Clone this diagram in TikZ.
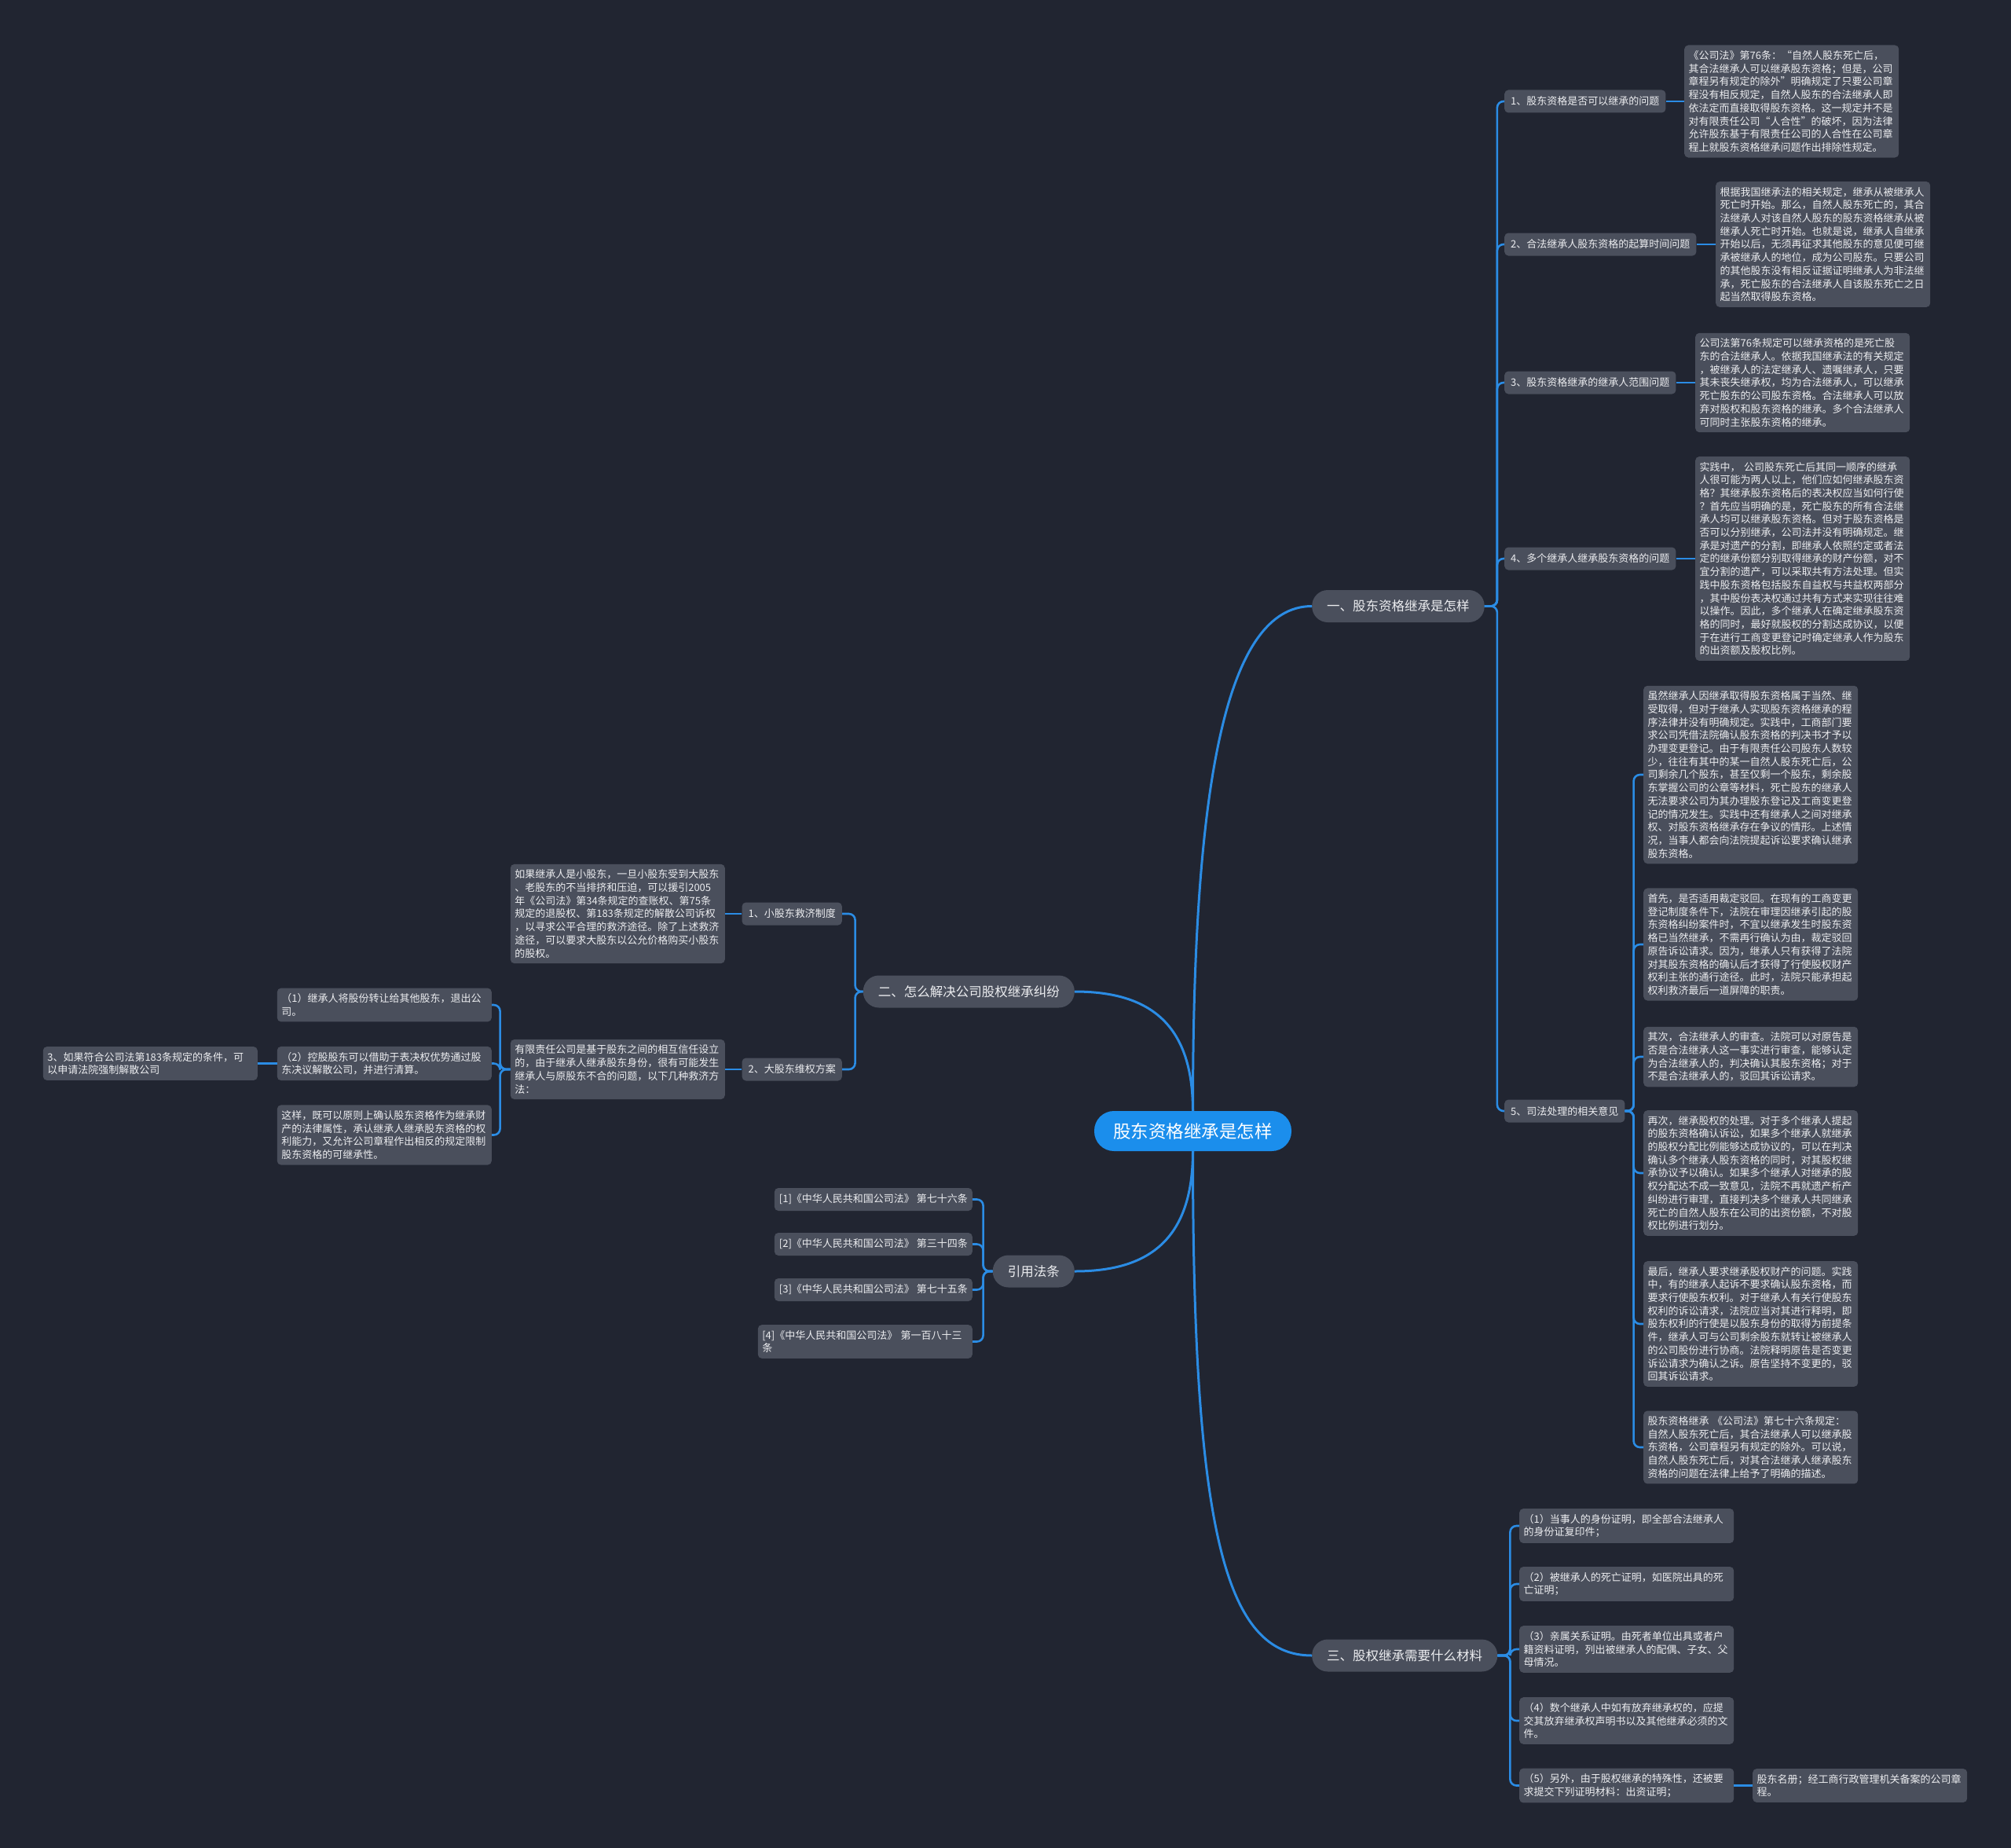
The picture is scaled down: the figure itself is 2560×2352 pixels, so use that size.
\documentclass[tikz,border=0pt]{standalone}
\usepackage{fontspec}
\setmainfont{Noto Sans CJK SC}
\definecolor{bgc}{RGB}{33,37,49}
\definecolor{boxc}{RGB}{74,79,92}
\definecolor{linec}{RGB}{43,140,228}
\definecolor{rootc}{RGB}{27,142,236}
\definecolor{textc}{RGB}{236,237,240}
\begin{document}
\begin{tikzpicture}[x=1pt,y=-1pt,
  conn/.style={draw=linec, line width=2.6pt, rounded corners=8pt},
  mainconn/.style={draw=linec, line width=3pt},
  box/.style={fill=boxc, rounded corners=5pt, text=textc, font=\fontsize{13}{16.7}\selectfont, align=left, text width=262pt, inner xsep=5.5pt, inner ysep=7pt},
  lbl/.style={fill=boxc, rounded corners=5pt, text=textc, font=\fontsize{13}{16.7}\selectfont, inner xsep=8pt, inner ysep=0pt, minimum height=29pt},
  reflbl/.style={lbl, inner xsep=6pt},
  lone/.style={fill=boxc, rounded corners=20pt, text=textc, font=\fontsize{16.5}{20}\selectfont, inner xsep=19pt, inner ysep=0pt, minimum height=41pt},
  rootn/.style={fill=rootc, rounded corners=25pt, text=white, font=\fontsize{22.5}{26}\selectfont, minimum width=251pt, minimum height=51pt, inner ysep=0pt}
]
\fill[bgc] (0,0) rectangle (2560,2352);
\useasboundingbox (0,0) rectangle (2560,2352);

% root and level 1
\node[rootn] (root) at (1518.5,1439.5) {股东资格继承是怎样};
\node[lone, anchor=west] (l1a) at (1670,771.5) {一、股东资格继承是怎样};
\node[lone, anchor=east] (l1b) at (1368,1262) {二、怎么解决公司股权继承纠纷};
\node[lone, anchor=east] (l1c) at (1368,1618) {引用法条};
\node[lone, anchor=west] (l1d) at (1670,2107) {三、股权继承需要什么材料};

% branch one
\node[lbl, anchor=west] (l21) at (1915,129) {1、股东资格是否可以继承的问题};
\node[lbl, anchor=west] (l22) at (1915,311) {2、合法继承人股东资格的起算时间问题};
\node[lbl, anchor=west] (l23) at (1915,487) {3、股东资格继承的继承人范围问题};
\node[lbl, anchor=west] (l24) at (1915,711) {4、多个继承人继承股东资格的问题};
\node[lbl, anchor=west] (l25) at (1915,1414) {5、司法处理的相关意见};

\node[box, anchor=west] (b1) at (2144,129) {《公司法》第76条：“自然人股东死亡后，\\
其合法继承人可以继承股东资格；但是，公司\\
章程另有规定的除外”明确规定了只要公司章\\
程没有相反规定，自然人股东的合法继承人即\\
依法定而直接取得股东资格。这一规定并不是\\
对有限责任公司“人合性”的破坏，因为法律\\
允许股东基于有限责任公司的人合性在公司章\\
程上就股东资格继承问题作出排除性规定。};

\node[box, anchor=west] (b2) at (2184,311) {根据我国继承法的相关规定，继承从被继承人\\
死亡时开始。那么，自然人股东死亡的，其合\\
法继承人对该自然人股东的股东资格继承从被\\
继承人死亡时开始。也就是说，继承人自继承\\
开始以后，无须再征求其他股东的意见便可继\\
承被继承人的地位，成为公司股东。只要公司\\
的其他股东没有相反证据证明继承人为非法继\\
承，死亡股东的合法继承人自该股东死亡之日\\
起当然取得股东资格。};

\node[box, anchor=west] (b3) at (2158,487) {公司法第76条规定可以继承资格的是死亡股\\
东的合法继承人。依据我国继承法的有关规定\\
，被继承人的法定继承人、遗嘱继承人，只要\\
其未丧失继承权，均为合法继承人，可以继承\\
死亡股东的公司股东资格。合法继承人可以放\\
弃对股权和股东资格的继承。多个合法继承人\\
可同时主张股东资格的继承。};

\node[box, anchor=west] (b4) at (2158,711) {实践中， 公司股东死亡后其同一顺序的继承\\
人很可能为两人以上，他们应如何继承股东资\\
格？其继承股东资格后的表决权应当如何行使\\
？首先应当明确的是，死亡股东的所有合法继\\
承人均可以继承股东资格。但对于股东资格是\\
否可以分别继承，公司法并没有明确规定。继\\
承是对遗产的分割，即继承人依照约定或者法\\
定的继承份额分别取得继承的财产份额，对不\\
宜分割的遗产，可以采取共有方法处理。但实\\
践中股东资格包括股东自益权与共益权两部分\\
，其中股份表决权通过共有方式来实现往往难\\
以操作。因此，多个继承人在确定继承股东资\\
格的同时，最好就股权的分割达成协议，以便\\
于在进行工商变更登记时确定继承人作为股东\\
的出资额及股权比例。};

\node[box, anchor=west] (b5a) at (2092,986) {虽然继承人因继承取得股东资格属于当然、继\\
受取得，但对于继承人实现股东资格继承的程\\
序法律并没有明确规定。实践中，工商部门要\\
求公司凭借法院确认股东资格的判决书才予以\\
办理变更登记。由于有限责任公司股东人数较\\
少，往往有其中的某一自然人股东死亡后，公\\
司剩余几个股东，甚至仅剩一个股东，剩余股\\
东掌握公司的公章等材料，死亡股东的继承人\\
无法要求公司为其办理股东登记及工商变更登\\
记的情况发生。实践中还有继承人之间对继承\\
权、对股东资格继承存在争议的情形。上述情\\
况，当事人都会向法院提起诉讼要求确认继承\\
股东资格。};

\node[box, anchor=west] (b5b) at (2092,1202) {首先，是否适用裁定驳回。在现有的工商变更\\
登记制度条件下，法院在审理因继承引起的股\\
东资格纠纷案件时，不宜以继承发生时股东资\\
格已当然继承，不需再行确认为由，裁定驳回\\
原告诉讼请求。因为，继承人只有获得了法院\\
对其股东资格的确认后才获得了行使股权财产\\
权利主张的通行途径。此时，法院只能承担起\\
权利救济最后一道屏障的职责。};

\node[box, anchor=west] (b5c) at (2092,1345) {其次，合法继承人的审查。法院可以对原告是\\
否是合法继承人这一事实进行审查，能够认定\\
为合法继承人的，判决确认其股东资格；对于\\
不是合法继承人的，驳回其诉讼请求。};

\node[box, anchor=west] (b5d) at (2092,1493) {再次，继承股权的处理。对于多个继承人提起\\
的股东资格确认诉讼，如果多个继承人就继承\\
的股权分配比例能够达成协议的，可以在判决\\
确认多个继承人股东资格的同时，对其股权继\\
承协议予以确认。如果多个继承人对继承的股\\
权分配达不成一致意见，法院不再就遗产析产\\
纠纷进行审理，直接判决多个继承人共同继承\\
死亡的自然人股东在公司的出资份额，不对股\\
权比例进行划分。};

\node[box, anchor=west] (b5e) at (2092,1685) {最后，继承人要求继承股权财产的问题。实践\\
中，有的继承人起诉不要求确认股东资格，而\\
要求行使股东权利。对于继承人有关行使股东\\
权利的诉讼请求，法院应当对其进行释明，即\\
股东权利的行使是以股东身份的取得为前提条\\
件，继承人可与公司剩余股东就转让被继承人\\
的公司股份进行协商。法院释明原告是否变更\\
诉讼请求为确认之诉。原告坚持不变更的，驳\\
回其诉讼请求。};

\node[box, anchor=west] (b5f) at (2092,1842) {股东资格继承 《公司法》第七十六条规定：\\
自然人股东死亡后，其合法继承人可以继承股\\
东资格，公司章程另有规定的除外。可以说，\\
自然人股东死亡后，对其合法继承人继承股东\\
资格的问题在法律上给予了明确的描述。};

% branch two
\node[lbl, anchor=east] (la1) at (1072,1163) {1、小股东救济制度};
\node[lbl, anchor=east] (la2) at (1072,1361) {2、大股东维权方案};

\node[box, anchor=east] (a1) at (923,1163) {如果继承人是小股东，一旦小股东受到大股东\\
、老股东的不当排挤和压迫，可以援引2005\\
年《公司法》第34条规定的查账权、第75条\\
规定的退股权、第183条规定的解散公司诉权\\
，以寻求公平合理的救济途径。除了上述救济\\
途径，可以要求大股东以公允价格购买小股东\\
的股权。};

\node[box, anchor=east] (a2) at (923,1361) {有限责任公司是基于股东之间的相互信任设立\\
的，由于继承人继承股东身份，很有可能发生\\
继承人与原股东不合的问题，以下几种救济方\\
法：};

\node[box, anchor=east] (c1) at (626,1279) {（1）继承人将股份转让给其他股东，退出公\\
司。};
\node[box, anchor=east] (c2) at (626,1353.5) {（2）控股股东可以借助于表决权优势通过股\\
东决议解散公司，并进行清算。};
\node[box, anchor=east] (c3) at (626,1444.5) {这样，既可以原则上确认股东资格作为继承财\\
产的法律属性，承认继承人继承股东资格的权\\
利能力，又允许公司章程作出相反的规定限制\\
股东资格的可继承性。};
\node[box, anchor=east] (d1) at (328,1353.5) {3、如果符合公司法第183条规定的条件，可\\
以申请法院强制解散公司};

% references
\node[reflbl, anchor=east] (r1) at (1238,1526.5) {[1]《中华人民共和国公司法》 第七十六条};
\node[reflbl, anchor=east] (r2) at (1238,1583.5) {[2]《中华人民共和国公司法》 第三十四条};
\node[reflbl, anchor=east] (r3) at (1238,1641.5) {[3]《中华人民共和国公司法》 第七十五条};
\node[box, anchor=east] (r4) at (1238,1707.5) {[4]《中华人民共和国公司法》 第一百八十三\\
条};

% branch three
\node[box, anchor=west] (m1) at (1934,1942) {（1）当事人的身份证明，即全部合法继承人\\
的身份证复印件；};
\node[box, anchor=west] (m2) at (1934,2016) {（2）被继承人的死亡证明，如医院出具的死\\
亡证明；};
\node[box, anchor=west] (m3) at (1934,2099) {（3）亲属关系证明。由死者单位出具或者户\\
籍资料证明，列出被继承人的配偶、子女、父\\
母情况。};
\node[box, anchor=west] (m4) at (1934,2190) {（4）数个继承人中如有放弃继承权的，应提\\
交其放弃继承权声明书以及其他继承必须的文\\
件。};
\node[box, anchor=west] (m5) at (1934,2272.5) {（5）另外，由于股权继承的特殊性，还被要\\
求提交下列证明材料：出资证明；};
\node[box, anchor=west] (n1) at (2231,2272.5) {股东名册；经工商行政管理机关备案的公司章\\
程。};

% main connectors
\draw[mainconn] (root.north) .. controls (1518.5,1000) and (1560,771.5) .. (l1a.west);
\draw[mainconn] (root.north) .. controls (1518.5,1300) and (1460,1262) .. (l1b.east);
\draw[mainconn] (root.south) .. controls (1518.5,1580) and (1460,1618) .. (l1c.east);
\draw[mainconn] (root.south) .. controls (1518.5,1950) and (1560,2107) .. (l1d.west);

% branch one connectors
\foreach \c in {l21,l22,l23,l24,l25}
  \draw[conn] (l1a.east) -- ++(16,0) |- (\c.west);
\draw[conn] (l21.east) -- (b1.west);
\draw[conn] (l22.east) -- (b2.west);
\draw[conn] (l23.east) -- (b3.west);
\draw[conn] (l24.east) -- (b4.west);
\foreach \c in {b5a,b5b,b5c,b5d,b5e,b5f}
  \draw[conn] (l25.east) -- ++(11,0) |- (\c.west);

% branch two connectors
\foreach \c in {la1,la2}
  \draw[conn] (l1b.west) -- ++(-10,0) |- (\c.east);
\draw[conn] (la1.west) -- (a1.east);
\draw[conn] (la2.west) -- (a2.east);
\foreach \c in {c1,c2,c3}
  \draw[conn] (a2.west) -- ++(-13,0) |- (\c.east);
\draw[conn] (c2.west) -- (d1.east);

% reference connectors
\foreach \c in {r1,r2,r3,r4}
  \draw[conn] (l1c.west) -- ++(-12,0) |- (\c.east);

% branch three connectors
\foreach \c in {m1,m2,m3,m4,m5}
  \draw[conn] (l1d.east) -- ++(16,0) |- (\c.west);
\draw[conn] (m5.east) -- (n1.west);
\end{tikzpicture}
\end{document}
